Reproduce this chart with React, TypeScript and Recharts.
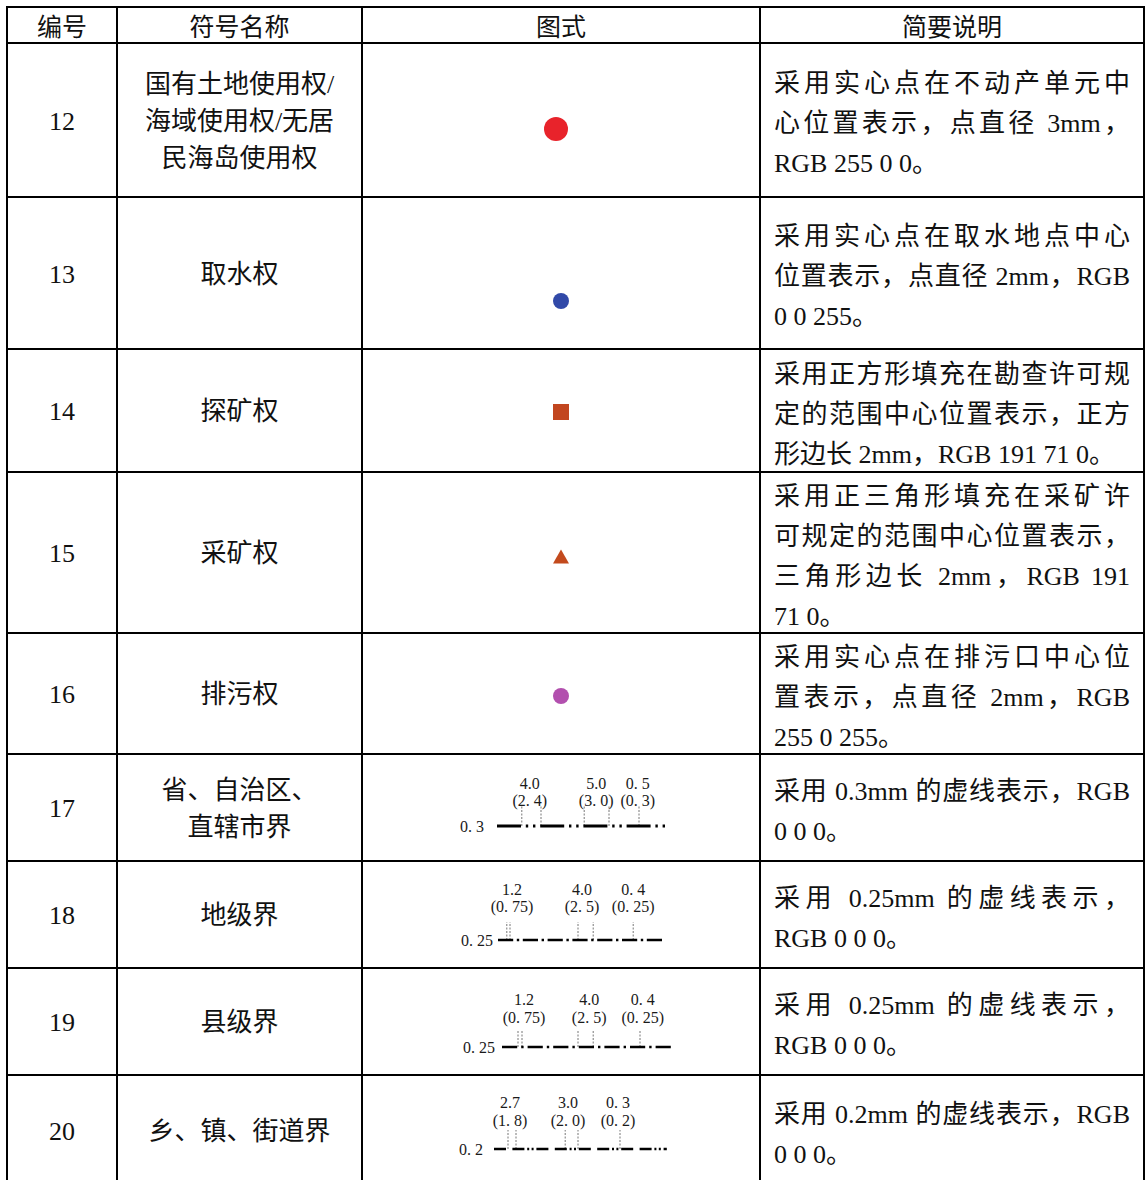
import React from 'react';
import { ComposedChart, Scatter, Line, XAxis, YAxis, ReferenceLine } from 'recharts';

// table content
const headers = ['编号', '符号名称', '图式', '简要说明'];
const ids = [12, 13, 14, 15, 16, 17, 18, 19, 20];
const names = [
  ['国有土地使用权/', '海域使用权/无居', '民海岛使用权'],
  ['取水权'],
  ['探矿权'],
  ['采矿权'],
  ['排污权'],
  ['省、自治区、', '直辖市界'],
  ['地级界'],
  ['县级界'],
  ['乡、镇、街道界'],
];
const descriptions = [
  ['采用实心点在不动产单元中', '心位置表示，点直径 3mm，', 'RGB 255 0 0。'],
  ['采用实心点在取水地点中心', '位置表示，点直径 2mm，RGB', '0 0 255。'],
  ['采用正方形填充在勘查许可规', '定的范围中心位置表示，正方', '形边长 2mm，RGB 191 71 0。'],
  ['采用正三角形填充在采矿许', '可规定的范围中心位置表示，', '三角形边长 2mm，RGB 191', '71 0。'],
  ['采用实心点在排污口中心位', '置表示，点直径 2mm，RGB', '255 0 255。'],
  ['采用 0.3mm 的虚线表示，RGB', '0 0 0。'],
  ['采用 0.25mm 的虚线表示，', 'RGB 0 0 0。'],
  ['采用 0.25mm 的虚线表示，', 'RGB 0 0 0。'],
  ['采用 0.2mm 的虚线表示，RGB', '0 0 0。'],
];

// point symbols (sizes in mm)
const pointSymbols = [
  { id: 12, shape: 'circle', sizeMm: 3 },
  { id: 13, shape: 'circle', sizeMm: 2 },
  { id: 14, shape: 'square', sizeMm: 2 },
  { id: 15, shape: 'triangle', sizeMm: 2 },
  { id: 16, shape: 'circle', sizeMm: 2 },
];

// boundary line symbols (lengths in mm along the line)
const lineWidths = ['0. 3', '0. 25', '0. 25', '0. 2'];
const lineLengths = [21.1, 20.5, 21.1, 21.6];
const dashPatterns = [
  [3.0, 0.6, 0.3, 0.6, 0.3, 0.6],
  [1.9, 0.45, 0.3, 0.45],
  [1.9, 0.5, 0.3, 0.5],
  [1.5, 0.8, 1.5, 0.35, 0.25, 0.3, 0.25, 0.35],
];
const topLabels = [
  ['4.0', '5.0', '0. 5'],
  ['1.2', '4.0', '0. 4'],
  ['1.2', '4.0', '0. 4'],
  ['2.7', '3.0', '0. 3'],
];
const bottomLabels = [
  ['(2. 4)', '(3. 0)', '(0. 3)'],
  ['(0. 75)', '(2. 5)', '(0. 25)'],
  ['(0. 75)', '(2. 5)', '(0. 25)'],
  ['(1. 8)', '(2. 0)', '(0. 2)'],
];
const labelAt = [
  [4.1, 12.4, 17.6],
  [1.75, 10.5, 16.9],
  [2.75, 10.9, 17.6],
  [2.0, 9.25, 15.5],
];
const markAt = [
  [[3.1, 5.5], [10.9, 14.0], [17.75]],
  [[1.1, 1.5], [10.0, 11.9], [16.9]],
  [[2.0, 2.5], [9.5, 11.4], [17.25]],
  [[1.75, 2.75], [8.9, 10.5], [15.75]],
];

// layout
const PX_PER_MM = 8;
const COLS = [7, 117, 362, 760, 1144];
const ROWS = [7, 43, 197, 349, 472, 633, 754, 861, 968, 1075, 1186];
const pointColors = ['#e8232b', '#3149a8', '#c2461f', '#c34a1d', '#b24fae'];
const pointOffsets = [[-5, 9], [0, 28], [0, 1.5], [0, 4], [0, 2.5]];
const lineLayout = [
  { x: 497, y: 826, low: 26, high: 43, markTop: 20, labelEnd: 484, stroke: 3 },
  { x: 498, y: 940, low: 34, high: 51, markTop: 18, labelEnd: 493, stroke: 2.5 },
  { x: 502, y: 1047, low: 30, high: 48, markTop: 17, labelEnd: 495, stroke: 2.5 },
  { x: 494, y: 1149, low: 29, high: 47, markTop: 19, labelEnd: 483, stroke: 2.4 },
];

const FONT = '"Liberation Serif", "Noto Sans CJK SC", serif';

const box = (c: number, r: number) => ({
  left: COLS[c] + 1,
  top: ROWS[r] + 1,
  width: COLS[c + 1] - COLS[c] - 2,
  height: ROWS[r + 1] - ROWS[r] - 2,
});

const TextShape = (props: any) => {
  const { cx, cy, payload } = props;
  return (
    <text x={cx} y={cy} textAnchor={payload.anchor || 'middle'} dominantBaseline="central"
      fontSize={16} fontFamily={FONT} fill="#1a1a1a">
      {payload.text}
    </text>
  );
};

const MarkShape = (props: any) => {
  const { cx, cy, payload } = props;
  const s = payload.sizeMm * PX_PER_MM;
  if (payload.shape === 'square') {
    return <rect x={cx - s / 2} y={cy - s / 2} width={s} height={s} fill={payload.color} />;
  }
  if (payload.shape === 'triangle') {
    const h = (s * Math.sqrt(3)) / 2;
    return <polygon points={`${cx},${cy - h / 2} ${cx + s / 2},${cy + h / 2} ${cx - s / 2},${cy + h / 2}`} fill={payload.color} />;
  }
  return <circle cx={cx} cy={cy} r={s / 2} fill={payload.color} />;
};

const PointChart = ({ i, w, h }: { i: number; w: number; h: number }) => {
  const sym = pointSymbols[i];
  const data = [{
    x: pointOffsets[i][0] / PX_PER_MM,
    y: pointOffsets[i][1] / PX_PER_MM,
    shape: sym.shape,
    sizeMm: sym.sizeMm,
    color: pointColors[i],
  }];
  return (
    <ComposedChart width={w} height={h} margin={{ top: 0, right: 0, bottom: 0, left: 0 }}>
      <XAxis type="number" dataKey="x" hide domain={[-w / 2 / PX_PER_MM, w / 2 / PX_PER_MM]} />
      <YAxis type="number" dataKey="y" hide reversed domain={[-h / 2 / PX_PER_MM, h / 2 / PX_PER_MM]} />
      <Scatter data={data} shape={MarkShape} isAnimationActive={false} />
    </ComposedChart>
  );
};

const LineChartCell = ({ i, r, w, h }: { i: number; r: number; w: number; h: number }) => {
  const lay = lineLayout[i];
  const b = box(2, r);
  const xMin = -(lay.x - b.left) / PX_PER_MM;
  const xMax = (b.left + w - lay.x) / PX_PER_MM;
  const yMin = -(b.top + h - lay.y);
  const yMax = lay.y - b.top;
  const lineData = [{ x: 0, y: 0 }, { x: lineLengths[i], y: 0 }];
  const labels: any[] = [];
  topLabels[i].forEach((t, k) => {
    labels.push({ x: labelAt[i][k], y: lay.high, text: t });
    labels.push({ x: labelAt[i][k], y: lay.low, text: bottomLabels[i][k] });
  });
  labels.push({ x: (lay.labelEnd - lay.x) / PX_PER_MM, y: 0, text: lineWidths[i], anchor: 'end' });
  const dash = dashPatterns[i].map((v) => (v * PX_PER_MM).toFixed(1)).join(' ');
  const marks = markAt[i].flat();
  return (
    <ComposedChart width={w} height={h} margin={{ top: 0, right: 0, bottom: 0, left: 0 }}>
      <XAxis type="number" dataKey="x" hide domain={[xMin, xMax]} />
      <YAxis type="number" dataKey="y" hide domain={[yMin, yMax]} />
      {marks.map((m, k) => (
        <ReferenceLine key={k} segment={[{ x: m, y: 0 }, { x: m, y: lay.markTop }]}
          stroke="#777" strokeWidth={1} strokeDasharray="2 1.5" ifOverflow="visible" />
      ))}
      <Line data={lineData} dataKey="y" stroke="#000" strokeWidth={lay.stroke}
        strokeDasharray={dash} dot={false} isAnimationActive={false} />
      <Scatter data={labels} shape={TextShape} isAnimationActive={false} />
    </ComposedChart>
  );
};

export default function App() {
  const cells: React.ReactNode[] = [];

  headers.forEach((t, c) => {
    const b = box(c, 0);
    cells.push(
      <div key={`h${c}`} style={{ position: 'absolute', ...b, display: 'flex', alignItems: 'center', justifyContent: 'center', fontSize: 25 }}>
        {t}
      </div>
    );
  });

  ids.forEach((id, k) => {
    const r = k + 1;
    const b0 = box(0, r);
    cells.push(
      <div key={`id${k}`} style={{ position: 'absolute', ...b0, display: 'flex', alignItems: 'center', justifyContent: 'center', boxSizing: 'border-box', paddingTop: 3, fontSize: 26 }}>
        {id}
      </div>
    );
    const b1 = box(1, r);
    cells.push(
      <div key={`n${k}`} style={{ position: 'absolute', ...b1, display: 'flex', flexDirection: 'column', alignItems: 'center', justifyContent: 'center', boxSizing: 'border-box', paddingTop: 2, fontSize: 26, lineHeight: '37px' }}>
        {names[k].map((ln, j) => <div key={j}>{ln}</div>)}
      </div>
    );
    const b2 = box(2, r);
    cells.push(
      <div key={`s${k}`} style={{ position: 'absolute', ...b2 }}>
        {k < pointSymbols.length
          ? <PointChart i={k} w={b2.width} h={b2.height} />
          : <LineChartCell i={k - pointSymbols.length} r={r} w={b2.width} h={b2.height} />}
      </div>
    );
    const b3 = box(3, r);
    const lines = descriptions[k];
    cells.push(
      <div key={`d${k}`} style={{ position: 'absolute', ...b3, display: 'flex', flexDirection: 'column', justifyContent: 'center', boxSizing: 'border-box', paddingLeft: 13, paddingRight: 13, paddingTop: 8, fontSize: 26 }}>
        {lines.map((ln, j) => (
          <div key={j} style={{ lineHeight: '40px', textAlign: 'left', textAlignLast: j < lines.length - 1 ? 'justify' : 'left' } as React.CSSProperties}>
            {ln}
          </div>
        ))}
      </div>
    );
  });

  const rules: React.ReactNode[] = [];
  COLS.forEach((x, i) => {
    rules.push(<div key={`v${i}`} style={{ position: 'absolute', left: x - 1, top: ROWS[0] - 1, width: 2, height: 1200, background: '#000' }} />);
  });
  ROWS.forEach((y, i) => {
    rules.push(<div key={`r${i}`} style={{ position: 'absolute', left: COLS[0] - 1, top: y - 1, width: COLS[4] - COLS[0] + 2, height: 2, background: '#000' }} />);
  });

  return (
    <div style={{ position: 'absolute', left: 0, top: 0, width: 1146, height: 1180, overflow: 'hidden', background: '#fff', fontFamily: FONT, color: '#111' }}>
      {cells}
      {rules}
    </div>
  );
}
